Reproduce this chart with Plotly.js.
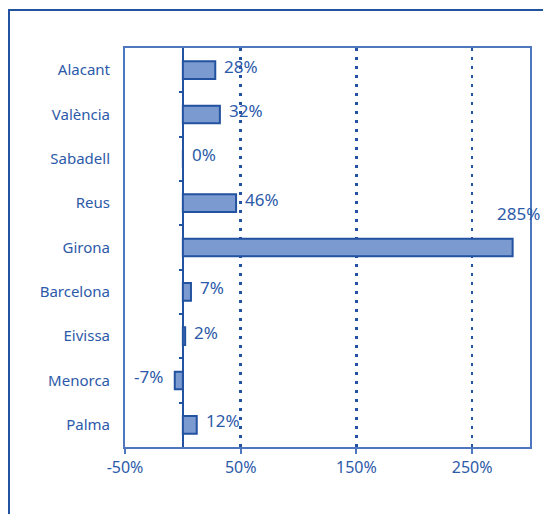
<!DOCTYPE html>
<html>
<head>
<meta charset="utf-8">
<script src="https://cdn.plot.ly/plotly-3.0.1.min.js"></script>
<style>
  html, body { margin: 0; padding: 0; background: #ffffff; }
  #wrap { position: relative; width: 543px; height: 514px; overflow: hidden; }
  #frame { position: absolute; left: 8px; top: 9px; width: 600px; height: 600px;
           border-top: 2px solid #2352a0; border-left: 2px solid #2352a0; pointer-events: none; }
  #chart { position: absolute; left: 0; top: 0; width: 543px; height: 514px; }
</style>
</head>
<body>
<div id="wrap">
  <div id="chart"></div>
  <div id="frame"></div>
</div>
<script>
const cities = ['Alacant', 'València', 'Sabadell', 'Reus', 'Girona', 'Barcelona', 'Eivissa', 'Menorca', 'Palma'];
const growth = [28, 32, 0, 46, 285, 7, 2, -7, 12];
const valueLabels = ['28%', '32%', '0%', '46%', '285%', '7%', '2%', '-7%', '12%'];
const xTickVals = [-50, 50, 150, 250];
const xTickText = ['-50%', '50%', '150%', '250%'];
const xRange = [-50, 300];

const dark = '#2352a0';
const textCol = '#2c5aa9';
const frameCol = '#4f77bf';
const fnt = 'Noto Sans, Open Sans, sans-serif';

const n = cities.length;
const yRange = [n - 0.5, -0.5];

const bars = {
  type: 'bar',
  orientation: 'h',
  x: growth,
  y: cities.map((_, i) => i),
  width: 0.4,
  marker: { color: '#7b9ad0', line: { color: dark, width: 2 } },
  hoverinfo: 'skip',
  cliponaxis: false
};

const helper = {
  type: 'scatter', mode: 'markers', x: [0], y: [0], yaxis: 'y2',
  marker: { opacity: 0 }, hoverinfo: 'skip', showlegend: false
};

const boundaries = cities.slice(1).map((_, i) => i + 0.5);
const maxVal = Math.max(...growth);

const annotations = growth.map((v, i) => {
  const isMax = v === maxVal;
  return {
    x: v, y: i, xref: 'x', yref: 'y',
    text: valueLabels[i],
    showarrow: false,
    xanchor: isMax ? 'center' : (v < 0 ? 'right' : 'left'),
    xshift: isMax ? 6 : (v < 0 ? -10 : 7),
    yshift: isMax ? 34 : 4,
    font: { family: fnt, size: 17, color: textCol }
  };
});

const layout = {
  width: 543, height: 514,
  margin: { l: 125, r: 13, t: 48, b: 67 },
  paper_bgcolor: 'rgba(0,0,0,0)',
  plot_bgcolor: '#ffffff',
  showlegend: false,
  xaxis: {
    range: xRange,
    tickvals: xTickVals,
    ticktext: xTickText,
    ticks: 'outside', ticklen: 5, tickwidth: 2, tickcolor: frameCol,
    showline: true, linecolor: frameCol, linewidth: 2, mirror: true,
    showgrid: true, gridcolor: dark, gridwidth: 2.5, griddash: '3px,6px',
    zeroline: true, zerolinecolor: dark, zerolinewidth: 2,
    tickfont: { family: fnt, size: 16, color: textCol },
    fixedrange: true
  },
  yaxis: {
    range: yRange,
    tickvals: cities.map((_, i) => i),
    ticktext: cities,
    ticks: '', showgrid: false, zeroline: false,
    showline: true, linecolor: frameCol, linewidth: 2, mirror: true,
    ticklabelstandoff: 10,
    tickfont: { family: fnt, size: 15, color: textCol },
    fixedrange: true
  },
  yaxis2: {
    overlaying: 'y', anchor: 'free', side: 'left',
    position: (0 - xRange[0]) / (xRange[1] - xRange[0]),
    range: yRange,
    tickvals: boundaries,
    ticks: 'outside', ticklen: 4, tickwidth: 2, tickcolor: dark,
    showticklabels: false, showline: false, showgrid: false, zeroline: false,
    fixedrange: true
  },
  annotations: annotations
};

Plotly.newPlot('chart', [bars, helper], layout, { staticPlot: true, displayModeBar: false });
</script>
</body>
</html>
